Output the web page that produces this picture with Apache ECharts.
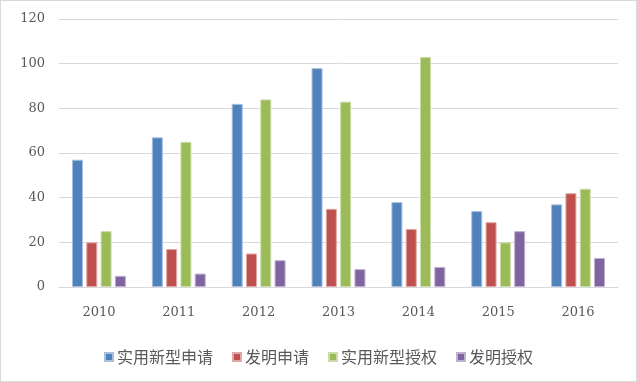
<!DOCTYPE html>
<html>
<head>
<meta charset="utf-8">
<script src="https://cdn.jsdelivr.net/npm/echarts@6/dist/echarts.min.js"></script>
<style>
html,body{margin:0;padding:0;background:#fff;}
#c{width:635px;height:380px;border:1px solid #d9d9d9;}
</style>
</head>
<body>
<div id="c"></div>
<script>
const categories = ['2010','2011','2012','2013','2014','2015','2016'];
const seriesNames = ['实用新型申请','发明申请','实用新型授权','发明授权'];
const utilityApply = [57, 67, 82, 98, 38, 34, 37];
const inventionApply = [20, 17, 15, 35, 26, 29, 42];
const utilityGrant = [25, 65, 84, 83, 103, 20, 44];
const inventionGrant = [5, 6, 12, 8, 9, 25, 13];
const yTicks = {min: 0, max: 120, interval: 20};

const colors = ['#4F81BD','#C0504D','#9BBB59','#8064A2'];
const borders = ['#a7c0de','#e0a8a6','#cddcac','#bfb1d0'];
const values = [utilityApply, inventionApply, utilityGrant, inventionGrant];
const numFont = '"DejaVu Serif", serif';
const cjkFont = '"Noto Sans CJK SC", sans-serif';

const chart = echarts.init(document.getElementById('c'));
chart.setOption({
  animation: false,
  color: colors,
  grid: {left: 58, right: 18, top: 18, bottom: 94},
  legend: {
    data: seriesNames,
    bottom: 11,
    left: 'center',
    icon: 'rect',
    itemWidth: 8,
    itemHeight: 8,
    itemGap: 19,
    textStyle: {fontSize: 16, color: '#595959', fontFamily: cjkFont, padding: [0,0,0,-1]}
  },
  xAxis: {
    type: 'category',
    data: categories,
    axisLine: {lineStyle: {color: '#d9d9d9'}},
    axisTick: {show: false},
    axisLabel: {fontSize: 13, color: '#595959', margin: 19, fontFamily: numFont}
  },
  yAxis: {
    type: 'value',
    min: yTicks.min, max: yTicks.max, interval: yTicks.interval,
    axisLine: {show: false},
    axisTick: {show: false},
    splitLine: {lineStyle: {color: '#d9d9d9'}},
    axisLabel: {fontSize: 13, color: '#595959', margin: 14, fontFamily: numFont}
  },
  series: seriesNames.map((n, i) => ({
    name: n,
    type: 'bar',
    data: values[i],
    barWidth: 11,
    barGap: '30%',
    itemStyle: {color: colors[i], borderColor: borders[i], borderWidth: 1}
  }))
});
</script>
</body>
</html>
